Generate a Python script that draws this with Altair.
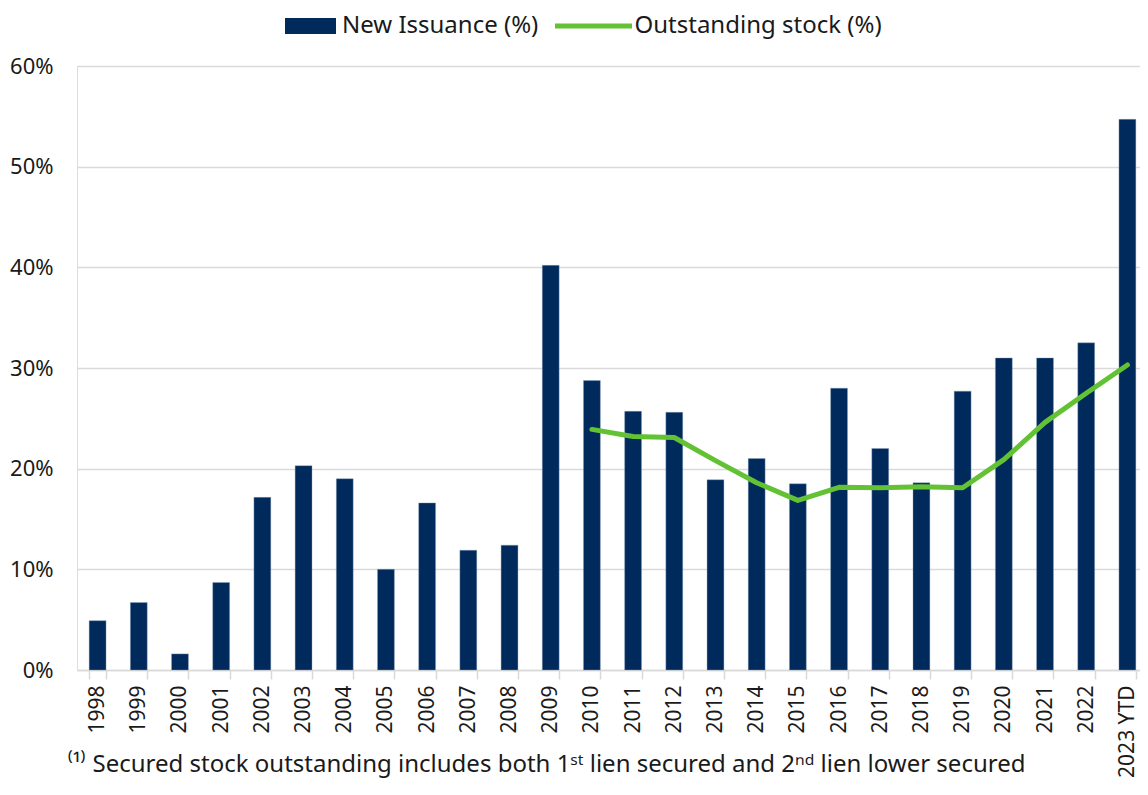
import altair as alt
import pandas as pd

years = ["1998", "1999", "2000", "2001", "2002", "2003", "2004", "2005", "2006",
         "2007", "2008", "2009", "2010", "2011", "2012", "2013", "2014", "2015",
         "2016", "2017", "2018", "2019", "2020", "2021", "2022", "2023 YTD"]
new_issuance = [4.9, 6.7, 1.6, 8.7, 17.15, 20.3, 19.0, 10.0, 16.6, 11.9, 12.4, 40.2,
                28.75, 25.7, 25.6, 18.9, 21.0, 18.5, 28.0, 22.0, 18.6, 27.7, 31.0,
                31.0, 32.5, 54.7]
stock_years = ["2010", "2011", "2012", "2013", "2014", "2015", "2016", "2017", "2018",
               "2019", "2020", "2021", "2022", "2023 YTD"]
outstanding_stock = [23.9, 23.2, 23.1, 20.8, 18.6, 16.85, 18.15, 18.1, 18.2, 18.1,
                     20.9, 24.6, 27.5, 30.3]
footnote = "⁽¹⁾ Secured stock outstanding includes both 1ˢᵗ lien secured and 2ⁿᵈ lien lower secured"

NAVY = "#002A5C"
GREEN = "#62C234"
FONT = "Noto Sans"
FS = 24

bars_df = pd.DataFrame({"year": years, "value": new_issuance,
                        "series": "New Issuance (%)"})
line_df = pd.DataFrame({"year": stock_years, "value": outstanding_stock,
                        "series": "Outstanding stock (%)"})

x_enc = alt.X("year:N", sort=years,
              scale=alt.Scale(domain=years, paddingInner=0.59, paddingOuter=0.295),
              axis=alt.Axis(title=None, labelAngle=-90, labelAlign="right",
                            labelBaseline="middle", labelFontSize=21,
                            labelColor="#1a1a1a", labelFont=FONT, labelPadding=6,
                            tickBand="extent", tickColor="#D9D9D9", tickSize=9,
                            tickWidth=1.5, domainColor="#D9D9D9", domainWidth=1.5,
                            grid=False))

y_scale = alt.Scale(domain=[0, 60])

bars = alt.Chart(bars_df).mark_bar(stroke="#8fa3bd", strokeWidth=0.4).encode(
    x=x_enc,
    y=alt.Y("value:Q", scale=y_scale,
            axis=alt.Axis(title=None, values=[0, 10, 20, 30, 40, 50, 60],
                          labelExpr="datum.value + '%'", labelFontSize=22,
                          labelColor="#1a1a1a", labelFont=FONT, labelPadding=24,
                          domain=False, ticks=False, gridColor="#D9D9D9",
                          gridWidth=1.5)),
    fill=alt.Fill("series:N",
                  scale=alt.Scale(domain=["New Issuance (%)"], range=[NAVY]),
                  legend=alt.Legend(title=None, orient="none", legendX=208,
                                    legendY=-65.5, symbolType="M-1,-0.31H1V0.31H-1Z",
                                    symbolSize=2601, symbolStrokeWidth=0,
                                    labelFontSize=FS, labelFont=FONT, labelLimit=0,
                                    labelColor="#1a1a1a", labelOffset=6, padding=0)),
)

line = alt.Chart(line_df).mark_line(strokeWidth=5, strokeCap="round",
                                    strokeJoin="round").encode(
    x=alt.X("year:N", sort=years),
    y=alt.Y("value:Q", scale=y_scale),
    stroke=alt.Stroke("series:N",
                      scale=alt.Scale(domain=["Outstanding stock (%)"], range=[GREEN]),
                      legend=alt.Legend(title=None, orient="none", legendX=475.5,
                                        legendY=-81, symbolType="stroke",
                                        symbolSize=5929, symbolStrokeWidth=5,
                                        labelFontSize=FS, labelFont=FONT, labelLimit=0,
                                        labelColor="#1a1a1a", labelOffset=0,
                                        padding=0)),
)

note = alt.Chart(pd.DataFrame({"t": [footnote]})).mark_text(
    align="left", baseline="alphabetic", fontSize=FS, font=FONT, color="#1a1a1a"
).encode(text="t:N", x=alt.value(-10), y=alt.value(706))

chart = alt.layer(bars, line, note).resolve_scale(
    fill="independent", stroke="independent"
).properties(
    width=1071, height=604,
    autosize=alt.AutoSizeParams(type="none"),
    padding={"left": 69, "top": 58, "right": -8, "bottom": 110},
).configure_view(stroke=None).configure(font=FONT)

chart.save("out.html", embed_options={"renderer": "svg", "actions": False})
